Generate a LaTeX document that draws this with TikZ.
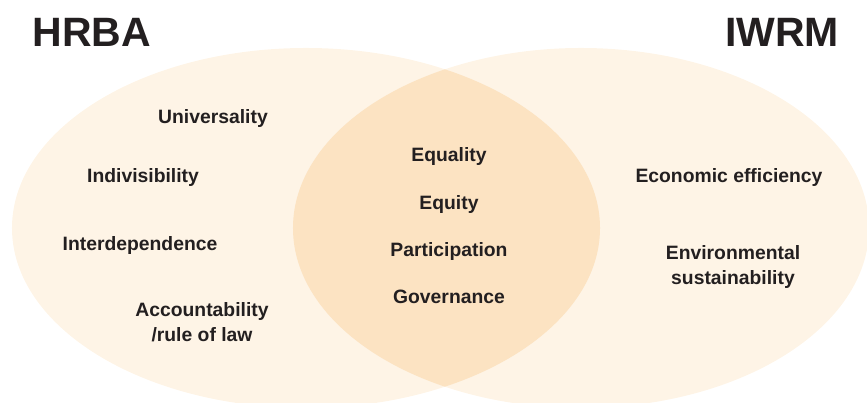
\documentclass[tikz,border=0pt]{standalone}
\usepackage{fontspec}
\setmainfont{Liberation Sans}
\usetikzlibrary{positioning}
\definecolor{ellLight}{RGB}{254,244,230}
\definecolor{lensFill}{RGB}{252,227,194}
\definecolor{textDark}{RGB}{35,31,32}
\tikzstyle{term}=[anchor=base, align=center, text=textDark, inner sep=0pt, font=\bfseries\fontsize{16.5}{21.5}\selectfont]
\tikzstyle{title}=[anchor=base, text=textDark, inner sep=0pt, font=\bfseries\fontsize{35}{40}\selectfont]

\begin{document}
\begin{tikzpicture}[x=0.03cm, y=-0.03cm]
    \useasboundingbox (0,0) rectangle (867,403);

    % sets
    \fill[ellLight] (306,228) ellipse [x radius=8.82cm, y radius=5.4cm];
    \fill[ellLight] (581,228) ellipse [x radius=8.64cm, y radius=5.4cm];
    \begin{scope}
        \clip (306,228) ellipse [x radius=8.82cm, y radius=5.4cm];
        \fill[lensFill] (581,228) ellipse [x radius=8.64cm, y radius=5.4cm];
    \end{scope}

    % titles
    \node[title] (hrba) at (92,47) {HRBA};
    \node[title] (iwrm) at (782,47) {IWRM};

    % HRBA principles
    \node[term] (universality) at (213,124) {Universality};
    \node[term] (indivisibility) at (143,183) {Indivisibility};
    \node[term] (interdependence) at (140,251) {Interdependence};
    \node[term] (accountability) at (202,342) {Accountability\\/rule of law};

    % shared principles
    \node[term] (equality) at (449,162) {Equality};
    \node[term] (equity) at (449,210) {Equity};
    \node[term] (participation) at (449,257) {Participation};
    \node[term] (governance) at (449,304) {Governance};

    % IWRM principles
    \node[term] (economic) at (729,183) {Economic efficiency};
    \node[term] (environmental) at (733,285) {Environmental\\sustainability};

\end{tikzpicture}
\end{document}
